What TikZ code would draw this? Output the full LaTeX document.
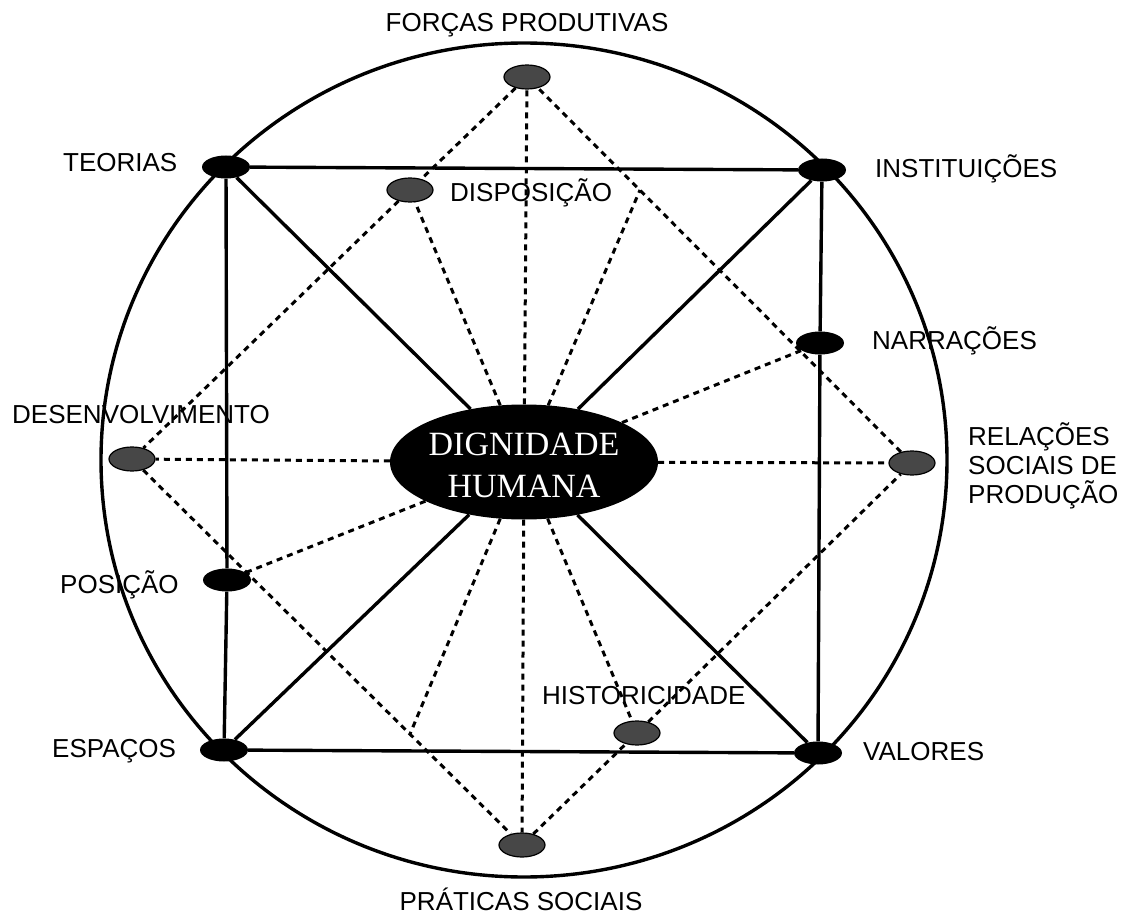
\documentclass[tikz,border=0pt]{standalone}
\usepackage{fontspec}
\setmainfont{Liberation Sans}
\newfontfamily\serifdh{Liberation Serif}
\usetikzlibrary{shapes.geometric,backgrounds}
\begin{document}
\begin{tikzpicture}[x=1pt,y=-1pt,
  solidl/.style={line width=3.4pt},
  dashl/.style={line width=3pt, dash pattern=on 6pt off 5pt},
  bnode/.style={ellipse, fill=black, minimum width=48pt, minimum height=23pt, inner sep=0pt},
  gnode/.style={ellipse, fill=black!72, draw=black, line width=1.2pt, minimum width=46pt, minimum height=24pt, inner sep=0pt},
  lbl/.style={font=\fontsize{26}{29}\selectfont, anchor=base, inner sep=0pt},
  dhlbl/.style={font=\serifdh\fontsize{34}{42}\selectfont, text=white, anchor=base, inner sep=0pt},
]
\useasboundingbox (0,0) rectangle (1133,917);

% black nodes
\node[bnode] (teo) at (226,167) {};
\node[bnode] (ins) at (822,170) {};
\node[bnode] (nar) at (820,343) {};
\node[bnode] (pos) at (227,580) {};
\node[bnode] (esp) at (224,750) {};
\node[bnode] (val) at (818,753) {};
% centre
\node[ellipse, fill=black, minimum width=268pt, minimum height=115pt, inner sep=0pt] (dh) at (524,462) {};
\node[dhlbl] (dh1) at (524,455) {DIGNIDADE};
\node[dhlbl] (dh2) at (524,497) {HUMANA};
% grey nodes
\node[gnode] (for) at (527,77) {};
\node[gnode] (dis) at (410,190) {};
\node[gnode] (des) at (132,459) {};
\node[gnode] (rel) at (912,463) {};
\node[gnode] (pra) at (522,845) {};
\node[gnode] (his) at (637,733) {};
% points where centre lines meet the diamond sides
\coordinate (c1) at (640,190);
\coordinate (c2) at (410,734);

\begin{scope}[on background layer]
  \draw[solidl] (524,460) ellipse [x radius=423pt, y radius=417pt];
  % square
  \draw[solidl] (teo) -- (ins);
  \draw[solidl] (ins) -- (nar);
  \draw[solidl] (nar) -- (val);
  \draw[solidl] (val) -- (esp);
  \draw[solidl] (esp) -- (pos);
  \draw[solidl] (pos) -- (teo);
  % diagonals
  \draw[solidl] (teo) -- (dh);
  \draw[solidl] (ins) -- (dh);
  \draw[solidl] (esp) -- (dh);
  \draw[solidl] (val) -- (dh);
  % diamond
  \draw[dashl] (for) -- (dis);
  \draw[dashl] (dis) -- (des);
  \draw[dashl] (des) -- (pra);
  \draw[dashl] (pra) -- (his);
  \draw[dashl] (his) -- (rel);
  \draw[dashl] (rel) -- (for);
  % radial dashed lines
  \draw[dashl] (dh) -- (for);
  \draw[dashl] (dh) -- (dis);
  \draw[dashl] (dh) -- (c1);
  \draw[dashl] (dh) -- (nar);
  \draw[dashl] (dh) -- (rel);
  \draw[dashl] (dh) -- (his);
  \draw[dashl] (dh) -- (pra);
  \draw[dashl] (dh) -- (c2);
  \draw[dashl] (dh) -- (pos);
  \draw[dashl] (dh) -- (des);
\end{scope}

% labels
\node[lbl] (lfor) at (527,32) {FORÇAS PRODUTIVAS};
\node[lbl, anchor=base west] (lteo) at (63,172) {TEORIAS};
\node[lbl, anchor=base west] (lins) at (875,178) {INSTITUIÇÕES};
\node[lbl, anchor=base west] (ldis) at (450,202) {DISPOSIÇÃO};
\node[lbl, anchor=base west] (lnar) at (872,350) {NARRAÇÕES};
\node[lbl, anchor=base west] (ldes) at (12,423) {DESENVOLVIMENTO};
\node[lbl, anchor=base west] (lrel1) at (968,445) {RELAÇÕES};
\node[lbl, anchor=base west] (lrel2) at (968,474) {SOCIAIS DE};
\node[lbl, anchor=base west] (lrel3) at (968,503) {PRODUÇÃO};
\node[lbl, anchor=base west] (lpos) at (60,593) {POSIÇÃO};
\node[lbl, anchor=base west] (lhis) at (542,704) {HISTORICIDADE};
\node[lbl, anchor=base west] (lesp) at (52,757) {ESPAÇOS};
\node[lbl, anchor=base west] (lval) at (863,760) {VALORES};
\node[lbl] (lpra) at (521,910) {PRÁTICAS SOCIAIS};
\end{tikzpicture}
\end{document}
